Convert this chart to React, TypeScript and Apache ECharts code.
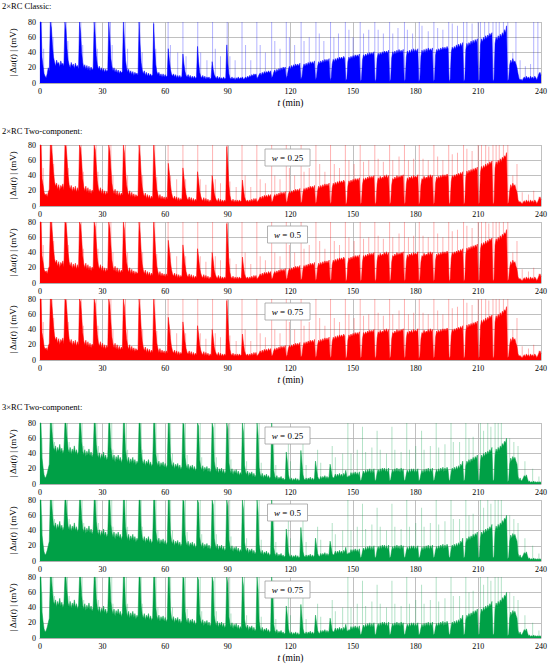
import React, { useEffect, useRef } from "react";
import * as echarts from "echarts";

// ---------- data ----------
const STEP_MIN = 0.5; // sampling step of the value arrays, minutes
const X_MIN = 0;
const X_MAX = 240;
const X_INTERVAL = 30;
const Y_MIN = 0;
const Y_MAX = 80;
const Y_INTERVAL = 20;

const SECTION_TITLES = ["2×RC Classic:", "2×RC Two-component:", "3×RC Two-component:"];
const W_LABELS = ["0.25", "0.5", "0.75"];

// |Δu(t)| envelope, 2×RC Classic (mV), every 0.5 min from t = 0
const BLUE_CLASSIC: number[] = [
  80, 80, 34, 22, 12, 9, 7, 12, 20, 16,
  80, 72, 50, 34, 28, 22, 30, 25, 27, 21, 29, 24, 26, 22,
  80, 70, 45, 30, 24, 20, 27, 22, 25, 19, 26, 21, 23, 18,
  80, 66, 40, 27, 20, 24, 18, 23, 17, 22, 16, 21, 17, 19,
  80, 62, 36, 24, 18, 22, 16, 20, 15, 19, 14, 18, 15, 17,
  80, 58, 32, 22, 16, 20, 14, 18, 13, 17, 12, 16, 13, 15,
  80, 55, 30, 20, 14, 18, 12, 16, 11, 15, 10, 14, 11, 13, 10,
  80, 50, 27, 17, 12, 16, 10, 14, 9, 13, 9, 12, 9, 11,
  78, 45, 24, 15, 11, 14, 9, 12, 8, 12, 8, 11, 8, 10,
  45, 30, 18, 12, 9, 12, 8, 11, 7, 10, 7, 10, 7, 9,
  38, 25, 15, 10, 8, 11, 7, 10, 6, 9, 6, 9, 6, 8,
  48, 28, 14, 9, 7, 10, 6, 9, 5, 8, 6, 8, 5, 7,
  28, 18, 11, 8, 6, 9, 5, 8, 5, 7, 5, 8, 5, 7,
  50, 26, 12, 7, 5, 8, 5, 7, 4, 7, 5, 8, 5, 7, 6,
  8, 5, 6, 8, 6, 9, 7, 10, 8, 11, 9, 12, 10, 12,
  6, 8, 11, 13, 10, 14, 11, 15, 12, 15, 13, 16, 13, 16,
  7, 9, 14, 17, 13, 18, 15, 19, 16, 20, 17, 21, 18, 21,
  6, 10, 18, 22, 18, 23, 20, 24, 21, 25, 22, 25, 22, 26,
  5, 8, 20, 25, 22, 26, 23, 27, 24, 28, 25, 28, 25, 29,
  4, 8, 22, 28, 25, 29, 26, 30, 27, 31, 28, 31, 28, 32,
  3, 7, 25, 31, 28, 32, 29, 33, 30, 34, 31, 34, 31, 35, 32,
  3, 6, 28, 34, 31, 35, 32, 36, 33, 37, 34, 37, 34, 38,
  2, 5, 30, 37, 34, 38, 35, 39, 36, 40, 37, 40, 37, 41,
  2, 5, 32, 39, 36, 40, 37, 41, 38, 42, 39, 42, 39, 43,
  2, 5, 33, 41, 37, 42, 38, 43, 39, 44, 40, 43, 40, 44,
  2, 5, 34, 42, 38, 43, 39, 44, 40, 45, 41, 44, 41, 45,
  2, 5, 35, 43, 39, 44, 40, 45, 41, 46, 42, 45, 42, 46,
  2, 5, 37, 44, 41, 45, 42, 46, 43, 47, 44, 47, 44, 48, 45,
  2, 5, 40, 47, 44, 48, 45, 50, 46, 51, 47, 52, 48, 53,
  2, 5, 44, 52, 48, 53, 50, 55, 51, 56, 52, 57, 53, 58,
  2, 5, 50, 58, 54, 60, 56, 62, 58, 63, 60, 65, 62, 66,
  2, 5, 52, 60, 56, 62, 58, 64, 60, 66, 62, 70, 66, 75,
  3, 5, 24, 30, 26, 32, 27, 29, 25, 20, 12, 6, 4, 5,
  3, 6, 8, 5, 9, 6, 8, 5, 9, 6, 8, 5, 9, 7,
  4, 8, 12, 14, 10,
];

// |Δu(t)| envelope, 2×RC Two-component (mV), every 0.5 min from t = 0
const RED_TWO_COMPONENT: number[] = [
  80, 80, 36, 28, 18, 14, 16, 12, 18, 22,
  80, 80, 64, 45, 32, 26, 30, 22, 28, 20, 27, 24, 29, 21,
  80, 78, 62, 40, 28, 22, 27, 19, 25, 20, 26, 18, 24, 19,
  80, 76, 58, 36, 25, 20, 26, 18, 24, 17, 22, 16, 21, 18,
  80, 74, 54, 33, 23, 18, 24, 16, 22, 15, 20, 14, 19, 16,
  80, 72, 50, 30, 21, 16, 22, 14, 20, 13, 18, 13, 17, 14,
  80, 70, 46, 28, 19, 14, 20, 12, 18, 12, 16, 11, 15, 12, 14,
  80, 66, 42, 25, 17, 12, 17, 10, 15, 10, 14, 9, 13, 10,
  80, 62, 38, 22, 15, 10, 15, 9, 13, 9, 12, 8, 12, 9,
  56, 44, 28, 18, 12, 9, 13, 8, 12, 7, 11, 7, 10, 8,
  50, 38, 24, 15, 10, 8, 12, 7, 11, 6, 10, 6, 9, 7,
  45, 34, 20, 13, 9, 7, 11, 6, 10, 6, 9, 5, 8, 6,
  40, 30, 17, 11, 8, 6, 10, 5, 9, 5, 8, 5, 8, 6,
  78, 55, 28, 14, 8, 6, 9, 5, 8, 5, 8, 5, 8, 6, 7,
  34, 22, 12, 8, 6, 8, 5, 8, 6, 9, 6, 10, 7, 10,
  5, 7, 9, 12, 9, 13, 10, 14, 11, 14, 11, 15, 12, 15,
  5, 7, 12, 15, 12, 16, 13, 17, 14, 18, 15, 18, 15, 19,
  4, 7, 15, 19, 16, 20, 17, 21, 18, 22, 19, 22, 19, 23,
  4, 6, 18, 23, 20, 24, 21, 25, 22, 26, 23, 26, 23, 27,
  3, 6, 20, 26, 23, 27, 24, 28, 25, 29, 26, 29, 26, 30,
  3, 5, 24, 30, 27, 31, 28, 32, 29, 33, 30, 33, 30, 34, 31,
  2, 5, 26, 33, 30, 34, 31, 35, 32, 36, 33, 36, 33, 37,
  2, 5, 28, 36, 33, 37, 34, 38, 35, 39, 36, 39, 36, 40,
  2, 5, 29, 37, 34, 39, 35, 38, 36, 40, 37, 41, 36, 40,
  2, 5, 28, 36, 34, 38, 35, 40, 36, 39, 37, 40, 38, 41,
  2, 5, 29, 37, 33, 38, 36, 39, 35, 40, 37, 39, 37, 41,
  2, 5, 28, 36, 34, 39, 35, 38, 36, 40, 36, 41, 37, 40,
  2, 5, 30, 38, 35, 39, 36, 40, 37, 41, 38, 41, 38, 42, 39,
  2, 5, 32, 40, 37, 41, 38, 42, 39, 43, 40, 44, 41, 45,
  2, 5, 38, 46, 42, 47, 44, 48, 45, 49, 46, 50, 47, 51,
  2, 5, 44, 52, 48, 53, 50, 55, 51, 56, 53, 58, 55, 59,
  2, 5, 50, 58, 54, 60, 56, 62, 58, 64, 61, 66, 64, 70,
  3, 5, 20, 28, 24, 30, 26, 28, 22, 18, 8, 5, 6, 4,
  3, 5, 7, 4, 8, 5, 7, 4, 8, 5, 7, 4, 8, 6,
  3, 6, 9, 12, 8,
];

// |Δu(t)| envelope, 3×RC Two-component (mV), every 0.5 min from t = 0
const GREEN_TWO_COMPONENT: number[] = [
  80, 80, 34, 22, 12, 8, 10, 14, 20, 26,
  80, 80, 62, 48, 44, 50, 41, 48, 43, 52, 42, 47, 40, 45,
  80, 80, 60, 46, 41, 48, 39, 46, 41, 50, 40, 45, 38, 43,
  80, 80, 56, 43, 38, 45, 36, 43, 38, 46, 37, 42, 35, 40,
  80, 80, 52, 40, 34, 41, 32, 39, 34, 42, 33, 38, 31, 36,
  80, 80, 48, 37, 31, 38, 29, 36, 31, 38, 30, 35, 28, 33,
  80, 80, 45, 34, 28, 35, 26, 33, 28, 35, 27, 32, 25, 30, 27,
  80, 80, 42, 31, 26, 32, 24, 30, 26, 32, 24, 29, 23, 27,
  80, 80, 40, 29, 24, 30, 22, 28, 24, 29, 22, 27, 21, 25,
  80, 80, 38, 27, 22, 28, 20, 26, 22, 27, 20, 25, 19, 23,
  80, 78, 35, 25, 20, 26, 18, 24, 20, 25, 18, 23, 17, 21,
  80, 76, 32, 23, 18, 24, 16, 22, 18, 23, 16, 21, 15, 19,
  80, 74, 30, 21, 16, 22, 14, 20, 16, 21, 14, 19, 13, 17,
  80, 72, 28, 19, 14, 20, 12, 18, 14, 19, 12, 17, 11, 15, 12,
  80, 68, 25, 16, 12, 17, 10, 15, 12, 16, 10, 14, 9, 12,
  80, 64, 22, 13, 9, 14, 8, 12, 9, 13, 8, 11, 7, 10,
  80, 60, 18, 10, 7, 11, 6, 9, 7, 10, 6, 8, 5, 7,
  42, 30, 12, 7, 5, 8, 4, 7, 5, 8, 4, 7, 4, 6,
  44, 28, 12, 7, 5, 8, 5, 8, 6, 9, 5, 8, 5, 8,
  30, 20, 10, 7, 6, 10, 7, 10, 8, 11, 7, 10, 7, 10,
  26, 18, 10, 8, 9, 13, 9, 13, 10, 14, 10, 13, 9, 14, 11,
  18, 10, 9, 11, 10, 15, 11, 15, 12, 16, 12, 15, 11, 16,
  4, 6, 12, 17, 13, 18, 14, 19, 15, 20, 14, 19, 14, 20,
  4, 6, 14, 19, 15, 20, 16, 21, 17, 21, 16, 20, 15, 21,
  4, 6, 14, 19, 15, 20, 16, 21, 16, 20, 15, 21, 16, 20,
  4, 6, 13, 18, 14, 19, 15, 20, 16, 20, 15, 19, 15, 20,
  4, 6, 13, 18, 14, 19, 15, 20, 16, 21, 15, 20, 16, 21,
  4, 6, 14, 19, 15, 20, 16, 21, 17, 22, 16, 21, 17, 22, 18,
  4, 6, 16, 21, 17, 22, 18, 23, 19, 24, 20, 26, 24, 30,
  4, 6, 24, 30, 27, 32, 28, 33, 30, 35, 31, 36, 33, 38,
  4, 6, 30, 38, 34, 40, 36, 42, 38, 43, 40, 45, 42, 48,
  4, 6, 38, 46, 42, 48, 44, 50, 47, 53, 50, 56, 54, 60,
  3, 5, 26, 34, 30, 36, 32, 35, 30, 26, 10, 5, 8, 4,
  5, 8, 11, 9, 12, 7, 3, 4, 2, 3, 2, 4, 2, 3,
  2, 3, 2, 3, 2,
];

// thin (pale) spikes: [t (min), |Δu| (mV)]
const BLUE_PALE: [number, number][] = [
  [0.8, 80], [1.8, 45], [5.6, 80], [6.3, 60], [12.6, 80], [13.4, 55], [19.6, 80], [20.5, 50],
  [26.7, 80], [27.5, 45], [33.8, 80], [34.6, 50], [40.8, 80], [42, 45], [47.9, 80], [49, 40],
  [54.4, 80], [55.5, 45], [61.4, 80], [62.5, 50], [66, 40], [68.5, 80], [70, 35], [75.6, 80],
  [77, 40], [80, 30], [82.7, 80], [84, 45], [86.5, 35], [89.7, 80], [91, 35], [93.5, 30],
  [96.8, 80], [98.5, 50], [101, 30], [103.9, 80], [105.5, 50], [108, 40], [111, 80], [112.5, 55],
  [115, 45], [118, 80], [119.5, 60], [122, 50], [125.1, 80], [126.5, 55], [129, 60], [132.2, 80],
  [133.8, 65], [136, 55], [139.2, 80], [140.8, 60], [143, 65], [146.3, 80], [148, 70], [150, 60],
  [153.4, 80], [155, 65], [157.5, 70], [160.4, 80], [162, 70], [164.5, 65], [167.5, 80], [169, 65],
  [171.5, 72], [174.6, 80], [176, 70], [178.5, 65], [181.7, 80], [183, 75], [186, 68], [188.7, 80],
  [190.5, 72], [193, 70], [195.8, 80], [197.5, 78], [200, 75], [202.9, 80], [204.5, 80], [207, 78],
  [209.9, 80], [211, 80], [213, 80], [215, 80], [217, 80], [218.5, 80], [220, 80], [222, 80],
  [224.1, 80], [226.5, 40], [228, 80], [230, 30], [232.5, 22], [235, 25], [236.5, 80], [238.5, 80],
];

const RED_PALE: [number, number][] = [
  [0.8, 80], [1.6, 50], [5.8, 80], [6.6, 55], [12.8, 80], [13.6, 50], [19.8, 80], [20.8, 45],
  [26.9, 80], [27.8, 45], [34, 80], [35, 40], [41, 80], [42, 40], [48, 80], [49.2, 40],
  [55, 80], [56, 38], [61.4, 80], [62.6, 40], [65.5, 35], [68.5, 80], [69.8, 35], [75.6, 80],
  [76.8, 35], [79.5, 28], [82.7, 80], [84, 35], [86.5, 30], [89.7, 80], [91, 32], [94, 25],
  [96.8, 80], [98.3, 40], [101, 25], [103.9, 80], [105.5, 35], [108, 30], [111, 80], [112.5, 40],
  [115, 35], [118, 80], [119.5, 50], [122, 40], [125.1, 80], [126.5, 45], [129, 50], [132.2, 80],
  [134, 55], [136.5, 45], [139.2, 80], [141, 55], [143.5, 50], [146.3, 80], [148, 60], [150.5, 55],
  [153.4, 80], [155, 58], [157.5, 60], [160.4, 80], [162, 62], [164.5, 58], [167.5, 80], [169, 60],
  [172, 65], [174.6, 80], [176.5, 60], [179, 62], [181.7, 80], [183.5, 62], [186, 60], [188.7, 80],
  [190.5, 65], [193, 60], [195.8, 80], [197.5, 68], [200, 70], [202.9, 80], [204.5, 75], [207, 72],
  [209.9, 80], [211.5, 80], [213.5, 80], [215, 78], [217, 80], [218.5, 80], [220, 80], [222, 80],
  [224.1, 80], [226.5, 40], [228.5, 55], [231, 18], [234, 15], [236.5, 20], [239, 12],
];

const GREEN_PALE: [number, number][] = [
  [1, 60], [6.2, 80], [7, 55], [13.2, 80], [14, 55], [20.2, 80], [21, 50], [27.3, 80],
  [28, 50], [34.4, 80], [35, 45], [41.4, 80], [42, 45], [48.5, 80], [49, 45], [55.6, 80],
  [56.5, 40], [62.6, 80], [63.5, 40], [69.7, 80], [70.5, 38], [76.8, 80], [77.5, 35], [83.8, 80],
  [84.5, 35], [90.9, 80], [91.5, 32], [98, 80], [99, 30], [105, 80], [106, 28], [112, 75],
  [113, 25], [119, 60], [120, 30], [126, 55], [127.5, 25], [133, 45], [134.5, 28], [140, 50],
  [141.5, 35], [145, 40], [147.5, 80], [149, 40], [152, 45], [154.5, 75], [156, 42], [159, 48],
  [161.5, 70], [163, 45], [166, 40], [168.6, 75], [170, 45], [173, 42], [175.7, 80], [177, 45],
  [180, 50], [182.8, 70], [184, 45], [187, 50], [189.8, 80], [191, 48], [194, 52], [196.9, 80],
  [198, 55], [201, 55], [204, 80], [205.5, 60], [207.5, 62], [211, 80], [212.5, 70], [214.5, 80],
  [216, 75], [218, 80], [219.5, 80], [221, 80], [225, 60], [227, 55], [229, 50], [232.3, 30],
  [236, 20], [239, 10],
];

// ---------- layout / styles ----------
const FONT = "'Liberation Serif', 'Times New Roman', serif";
const GRID_LEFT = 33;
const GRID_WIDTH = 509;
const GRID_HEIGHT = 61;
const GRID_COLOR = "#b0b0b0";
const TEXT_COLOR = "#000000";

type Panel = {
  top: number;
  values: number[];
  pale: [number, number][];
  color: string;
  paleColor: string;
  wLabel: string | null;
  xName: boolean;
};

const BLUE = "#0000ff";
const RED = "#ff0000";
const GREEN = "#00a046";

const PANELS: Panel[] = [
  { top: 22, values: BLUE_CLASSIC, pale: BLUE_PALE, color: BLUE, paleColor: "rgba(0,0,255,0.3)", wLabel: null, xName: true },
  { top: 145, values: RED_TWO_COMPONENT, pale: RED_PALE, color: RED, paleColor: "rgba(255,0,0,0.3)", wLabel: W_LABELS[0], xName: false },
  { top: 222, values: RED_TWO_COMPONENT, pale: RED_PALE, color: RED, paleColor: "rgba(255,0,0,0.3)", wLabel: W_LABELS[1], xName: false },
  { top: 299, values: RED_TWO_COMPONENT, pale: RED_PALE, color: RED, paleColor: "rgba(255,0,0,0.3)", wLabel: W_LABELS[2], xName: true },
  { top: 423, values: GREEN_TWO_COMPONENT, pale: GREEN_PALE, color: GREEN, paleColor: "rgba(0,160,70,0.3)", wLabel: W_LABELS[0], xName: false },
  { top: 500, values: GREEN_TWO_COMPONENT, pale: GREEN_PALE, color: GREEN, paleColor: "rgba(0,160,70,0.3)", wLabel: W_LABELS[1], xName: false },
  { top: 577, values: GREEN_TWO_COMPONENT, pale: GREEN_PALE, color: GREEN, paleColor: "rgba(0,160,70,0.3)", wLabel: W_LABELS[2], xName: true },
];

const TITLE_Y = [6, 130.5, 407];

function buildOption(): echarts.EChartsOption {
  const grid: any[] = [];
  const xAxis: any[] = [];
  const yAxis: any[] = [];
  const series: any[] = [];
  const graphic: any[] = [];

  PANELS.forEach((p, k) => {
    grid.push({ left: GRID_LEFT, width: GRID_WIDTH, top: p.top, height: GRID_HEIGHT, containLabel: false });
    xAxis.push({
      type: "value",
      gridIndex: k,
      min: X_MIN,
      max: X_MAX,
      interval: X_INTERVAL,
      axisLine: { show: true, lineStyle: { color: GRID_COLOR, width: 1 } },
      axisTick: { show: false },
      axisLabel: { color: TEXT_COLOR, fontFamily: FONT, fontSize: 8, margin: 4 },
      splitLine: { show: true, lineStyle: { color: GRID_COLOR, width: 0.8 } },
      name: p.xName ? "{i|t} (min)" : "",
      nameLocation: "middle",
      nameGap: 15,
      nameTextStyle: {
        color: TEXT_COLOR,
        fontFamily: FONT,
        fontSize: 9.5,
        rich: { i: { fontStyle: "italic", fontFamily: FONT, fontSize: 9.5, color: TEXT_COLOR } },
      },
    });
    yAxis.push({
      type: "value",
      gridIndex: k,
      min: Y_MIN,
      max: Y_MAX,
      interval: Y_INTERVAL,
      axisLine: { show: true, lineStyle: { color: GRID_COLOR, width: 1 } },
      axisTick: { show: false },
      axisLabel: { color: TEXT_COLOR, fontFamily: FONT, fontSize: 8, margin: 4 },
      splitLine: { show: true, lineStyle: { color: GRID_COLOR, width: 0.8 } },
      name: "| Δ{i|u}({i|t}) | (mV)",
      nameLocation: "middle",
      nameRotate: 90,
      nameGap: 17,
      nameTextStyle: {
        color: TEXT_COLOR,
        fontFamily: FONT,
        fontSize: 9,
        rich: { i: { fontStyle: "italic", fontFamily: FONT, fontSize: 9, color: TEXT_COLOR } },
      },
    });
    series.push({
      type: "bar",
      xAxisIndex: k,
      yAxisIndex: k,
      data: p.pale.map(([t, v]) => [t, v]),
      barWidth: 1,
      itemStyle: { color: p.paleColor },
      silent: true,
      z: 2,
    });
    series.push({
      type: "line",
      xAxisIndex: k,
      yAxisIndex: k,
      data: p.values.map((v, i) => [i * STEP_MIN, v]),
      symbol: "none",
      showSymbol: false,
      lineStyle: { color: p.color, width: 0.5 },
      areaStyle: { color: p.color, opacity: 1 },
      silent: true,
      z: 3,
    });
    if (p.wLabel) {
      const boxW = p.wLabel.length > 3 ? 45 : 40;
      const cx = GRID_LEFT + GRID_WIDTH / 2;
      graphic.push({
        type: "group",
        z: 100,
        children: [
          {
            type: "rect",
            shape: { x: cx - boxW / 2, y: p.top + 4, width: boxW, height: 17 },
            style: { fill: "#ffffff", stroke: "#a0a0a0", lineWidth: 0.8 },
            z: 100,
          },
          {
            type: "text",
            x: cx,
            y: p.top + 12.5,
            z: 101,
            style: {
              text: "{i|w} = " + p.wLabel,
              fill: TEXT_COLOR,
              font: `9px ${FONT}`,
              align: "center",
              verticalAlign: "middle",
              rich: { i: { fontStyle: "italic", fontFamily: FONT, fontSize: 9, fill: TEXT_COLOR } },
            },
          },
        ],
      });
    }
  });

  SECTION_TITLES.forEach((title, i) => {
    graphic.push({
      type: "text",
      x: 2,
      y: TITLE_Y[i],
      z: 100,
      style: { text: title, fill: TEXT_COLOR, font: `8.5px ${FONT}`, align: "left", verticalAlign: "middle" },
    });
  });

  return {
    animation: false,
    backgroundColor: "#ffffff",
    textStyle: { color: TEXT_COLOR, fontFamily: FONT },
    grid,
    xAxis,
    yAxis,
    series,
    graphic,
  } as any;
}

export default function App() {
  const ref = useRef<HTMLDivElement>(null);
  useEffect(() => {
    if (!ref.current) return;
    const chart = echarts.init(ref.current, undefined, { renderer: "svg" });
    chart.setOption(buildOption());
    return () => chart.dispose();
  }, []);
  return (
    <div
      ref={ref}
      style={{ position: "fixed", left: 0, top: 0, width: 550, height: 666, background: "#fff" }}
    />
  );
}
